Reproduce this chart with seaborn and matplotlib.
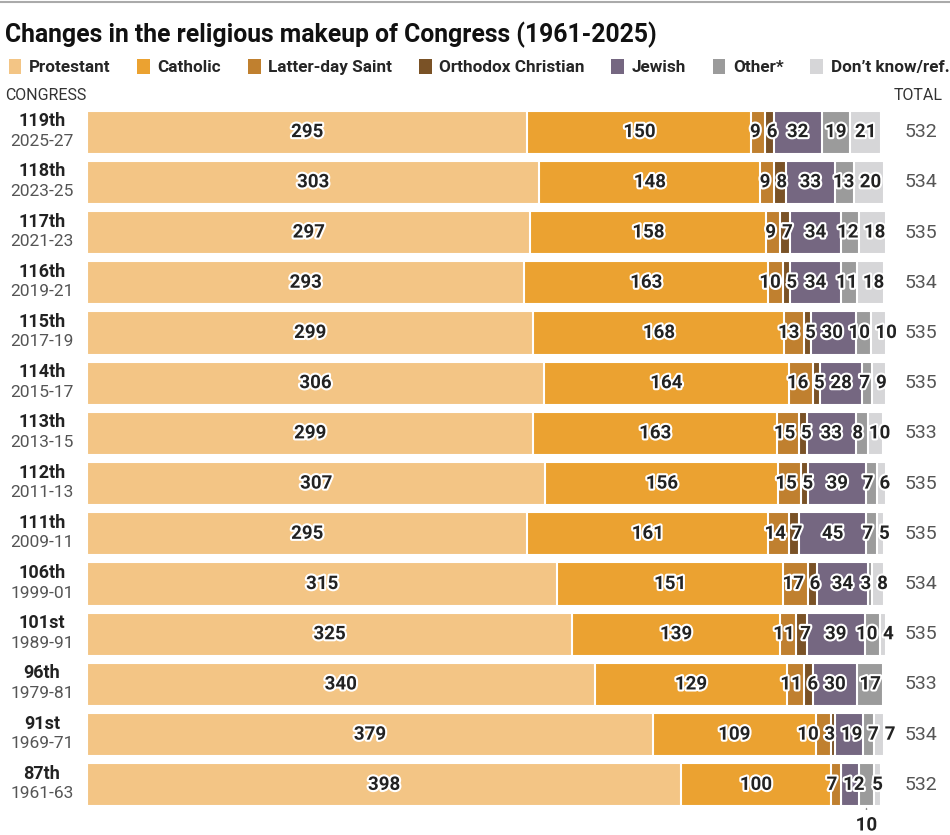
import matplotlib
matplotlib.use("Agg")
import matplotlib.pyplot as plt
import matplotlib.transforms as mtransforms
import matplotlib.patheffects as pe
from matplotlib.patches import Patch
from matplotlib.lines import Line2D
import numpy as np
import pandas as pd
import seaborn as sns

congress = ["119th", "118th", "117th", "116th", "115th", "114th", "113th",
            "112th", "111th", "106th", "101st", "96th", "91st", "87th"]
years = ["2025-27", "2023-25", "2021-23", "2019-21", "2017-19", "2015-17", "2013-15",
         "2011-13", "2009-11", "1999-01", "1989-91", "1979-81", "1969-71", "1961-63"]
protestant = [295, 303, 297, 293, 299, 306, 299, 307, 295, 315, 325, 340, 379, 398]
catholic = [150, 148, 158, 163, 168, 164, 163, 156, 161, 151, 139, 129, 109, 100]
latter_day_saint = [9, 9, 9, 10, 13, 16, 15, 15, 14, 17, 11, 11, 10, 7]
orthodox = [6, 8, 7, 5, 5, 5, 5, 5, 7, 6, 7, 6, 3, 0]
jewish = [32, 33, 34, 34, 30, 28, 33, 39, 45, 34, 39, 30, 19, 12]
other = [19, 13, 12, 11, 10, 7, 8, 7, 7, 3, 10, 17, 7, 10]
dont_know = [21, 20, 18, 18, 10, 9, 10, 6, 5, 8, 4, 0, 7, 5]
totals = [532, 534, 535, 534, 535, 535, 533, 535, 535, 534, 535, 533, 534, 532]

groups = ["Protestant", "Catholic", "Latter-day Saint", "Orthodox Christian",
          "Jewish", "Other*", "Don\u2019t know/ref."]
colors = ["#F3C585", "#EBA231", "#C0802F", "#7A5226", "#756781", "#9B9B9B", "#D6D6D8"]

df = pd.DataFrame({
    "congress": congress,
    "Protestant": protestant,
    "Catholic": catholic,
    "Latter-day Saint": latter_day_saint,
    "Orthodox Christian": orthodox,
    "Jewish": jewish,
    "Other*": other,
    "Don\u2019t know/ref.": dont_know,
})

# cumulative sums for the stacked bars
cum = df[groups].cumsum(axis=1)
cum["congress"] = df["congress"]

sns.set_style("white")
plt.rcParams["font.family"] = ["Roboto", "DejaVu Sans"]

W, H = 950, 835
fig = plt.figure(figsize=(W / 100, H / 100), dpi=100)
px = 1.493  # pixels per member
ax = fig.add_axes([87 / W, (835 - 810) / H, 535 * px / W, (810 - 107) / H])

# draw from the longest cumulative bar down to the shortest
for g, c in reversed(list(zip(groups, colors))):
    sns.barplot(data=cum, x=g, y="congress", orient="h", color=c, saturation=1,
                width=0.86, edgecolor="white", linewidth=1.5, ax=ax)

ax.set_xlim(0, 535)
ax.set_ylim(13.5, -0.5)
ax.set_axis_off()

stroke = [pe.withStroke(linewidth=3, foreground="white")]
lab_kw = dict(fontsize=13.5, fontweight="bold", color="#222222", path_effects=stroke)
digit_w = 10.2 / px  # width of one digit in data units


def spread(centers, widths, gap=6.5 / px):
    # push neighbouring labels apart until they no longer collide
    pos = list(centers)
    for _ in range(300):
        moved = False
        for k in range(len(pos) - 1):
            need = (widths[k] + widths[k + 1]) / 2 + gap
            d = pos[k + 1] - pos[k]
            if d < need - 1e-6:
                shift = (need - d) / 2
                pos[k] -= shift
                pos[k + 1] += shift
                moved = True
        if not moved:
            break
    return pos


for i in range(len(congress)):
    left = 0
    small = []
    for g in groups:
        v = int(df.loc[i, g])
        xc = left + v / 2
        if g in ("Protestant", "Catholic"):
            ax.text(xc, i, str(v), ha="center", va="center", **lab_kw)
        elif v > 0:
            if congress[i] == "87th" and g == "Other*":
                # label pushed below the bar with a small tick
                ax.add_line(Line2D([xc, xc], [i + 0.46, i + 0.6], color="#888888", lw=1))
                ax.text(xc, i + 0.63, str(v), ha="center", va="top", **lab_kw)
            else:
                small.append((xc, v))
        left += v
    if small:
        pos = spread([s[0] for s in small], [len(str(s[1])) * digit_w for s in small])
        for p, (_, v) in zip(pos, small):
            ax.text(p, i, str(v), ha="center", va="center", **lab_kw)

trans = mtransforms.blended_transform_factory(fig.transFigure, ax.transData)
for i, (c, y) in enumerate(zip(congress, years)):
    fig.text(42 / W, i - 0.04, c, transform=trans, ha="center", va="bottom",
             fontsize=13, fontweight="bold", color="#222222")
    fig.text(42 / W, i + 0.03, y, transform=trans, ha="center", va="top",
             fontsize=12.5, color="#555555")
    fig.text(921 / W, i, str(totals[i]), transform=trans, ha="center", va="center",
             fontsize=14, color="#555555")

fig.text(5 / W, 1 - 35 / H, "Changes in the religious makeup of Congress (1961-2025)",
         ha="left", va="center", fontsize=17.8, fontweight="bold", color="#111111")
fig.text(5 / W, 1 - 96 / H, "CONGRESS", ha="left", va="center", fontsize=11.5,
         color="#333333")
fig.text(943 / W, 1 - 96 / H, "TOTAL", ha="right", va="center", fontsize=11.5,
         color="#333333")

fig.add_artist(Line2D([0, 1], [1 - 2 / H, 1 - 2 / H], color="#AAAAAA", lw=1.5))

handles = [Patch(facecolor=c, edgecolor="none") for c in colors]
fig.legend(handles, groups, loc="center left", bbox_to_anchor=(0, 1 - 67 / H),
           ncol=7, frameon=False, handlelength=0.75, handleheight=1.0,
           handletextpad=0.45, columnspacing=1.55, borderaxespad=0.2,
           borderpad=0.3, prop={"size": 12.3, "weight": "bold"})

fig.savefig("out.png", dpi=100)
